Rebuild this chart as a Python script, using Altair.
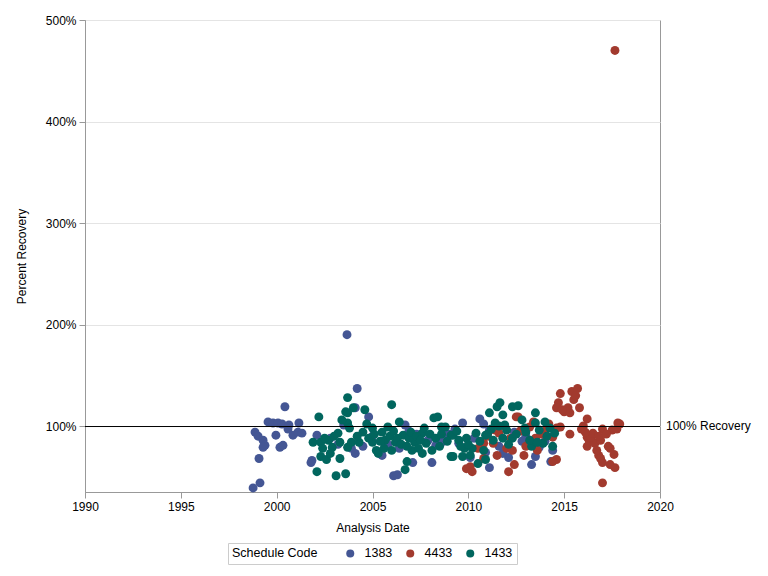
import altair as alt
import pandas as pd

codes = ["1383", "4433", "1433"]
colors = ["#445694", "#A23A2E", "#01665E"]

blue_year = [1998.77, 1999.13, 1998.87, 1999.03, 1999.29, 1999.39, 1999.29, 1999.08, 1999.55, 1999.81,
             2000.07, 2000.28, 1999.96, 2000.17, 2000.33, 2000.43, 2000.64, 2000.59, 2000.85, 2001.16,
             2001.11, 2001.32, 2001.79, 2001.84, 2002.1, 2003.67, 2004.2, 2004.1, 2004.8, 2003.5,
             2004.1, 2003.9, 2005.5, 2006.1, 2006.3, 2006.7, 2006.9, 2007.1, 2007.4, 2008.1,
             2008.6, 2008.8, 2009.3, 2009.7, 2009.5, 2010.1, 2010.6, 2010.8, 2011.1, 2011.1,
             2011.6, 2012.1, 2012.8, 2013.3, 2013.7, 2014.3, 2014.4, 2005.0, 2005.8, 2006.4,
             2007.9, 2009.0, 2010.3, 2012.4, 2013.0, 2014.0, 2004.5, 2007.3, 2002.8, 2003.2,
             2010.9, 2011.8, 2013.5, 2008.3]
blue_pct = [39, 44, 94, 90, 86, 81, 79, 68, 104, 103,
            103, 102, 91, 79, 81, 119, 101, 97, 91, 103,
            94, 93, 64, 66, 91, 190, 137, 118, 109, 101,
            73, 78, 71, 51, 52, 101, 95, 64, 88, 64,
            84, 91, 97, 103, 83, 69, 107, 102, 96, 59,
            80, 69, 85, 62, 79, 65, 76, 90, 82, 78,
            86, 92, 88, 94, 90, 85, 80, 92, 88, 82,
            74, 73, 70, 81]

red_year = [2009.9, 2010.1, 2010.2, 2010.8, 2010.8, 2011.3, 2011.5, 2011.6, 2012.0, 2012.1,
            2012.4, 2012.5, 2012.6, 2012.9, 2013.2, 2013.2, 2013.4, 2013.6, 2014.0, 2014.4,
            2014.6, 2014.6, 2014.4, 2011.0, 2011.9, 2012.2, 2012.7, 2013.0, 2013.8, 2014.2,
            2010.5, 2011.4, 2012.3, 2013.5, 2014.8, 2014.7, 2014.6, 2015.0, 2015.3, 2015.4,
            2015.7, 2015.5, 2015.8, 2015.2, 2014.9, 2015.6, 2014.8, 2015.3, 2016.2, 2015.9,
            2016.0, 2016.2, 2016.3, 2016.2, 2016.6, 2016.9, 2017.0, 2017.5, 2017.8, 2017.75,
            2017.9, 2017.4, 2016.8, 2017.0, 2017.4, 2017.65, 2017.0, 2016.7, 2016.4, 2016.5,
            2016.8, 2017.2, 2017.3, 2017.6, 2017.65, 2016.9, 2016.1]
red_pct = [58, 60, 55, 68, 83, 83, 71, 93, 78, 55,
           62, 109, 109, 71, 99, 84, 104, 76, 95, 89,
           98, 67, 65, 90, 100, 88, 95, 80, 92, 102,
           78, 96, 76, 88, 132, 123, 118, 114, 113, 134,
           137, 126, 118, 118, 116, 130, 99, 92, 107, 97,
           100, 89, 86, 80, 83, 86, 97, 96, 103, 97,
           102, 78, 71, 64, 62, 59, 44, 76, 89, 93,
           90, 92, 80, 72, 470, 68, 94]

teal_year = [2002.2, 2001.9, 2002.3, 2002.4, 2002.3, 2002.6, 2002.7, 2002.9, 2003.2, 2003.3,
             2003.3, 2002.1, 2003.1, 2003.6, 2003.7, 2003.6, 2003.7, 2003.4, 2003.7, 2002.8,
             2004.0, 2003.7, 2003.8, 2004.6, 2006.0, 2003.9, 2004.3, 2004.5, 2005.0, 2005.0,
             2005.2, 2005.5, 2005.65, 2005.8, 2006.2, 2006.4, 2006.6, 2006.8, 2006.7, 2007.06,
             2007.2, 2007.6, 2007.7, 2007.8, 2008.2, 2008.4, 2008.6, 2008.8, 2009.1, 2009.1,
             2008.1, 2006.0, 2005.3, 2007.6, 2009.2, 2009.5, 2009.8, 2009.2, 2009.7, 2010.1,
             2010.2, 2010.4, 2010.9, 2010.8, 2010.9, 2010.5, 2011.4, 2011.9, 2011.8, 2012.3,
             2012.8, 2012.95, 2013.3, 2013.5, 2014.0, 2014.26, 2014.4, 2013.9, 2013.2, 2011.3,
             2011.65, 2011.5, 2011.1, 2012.3, 2012.6, 2013.5, 2011.8, 2004.2, 2004.8, 2005.1,
             2005.4, 2005.9, 2006.1, 2006.3, 2006.5, 2006.9, 2007.0, 2007.3, 2007.5, 2008.0,
             2008.3, 2008.6, 2008.9, 2009.4, 2009.9, 2010.0, 2010.6, 2011.0, 2011.2, 2011.6,
             2012.0, 2012.5, 2013.0, 2013.7, 2014.1, 2014.5, 2004.7, 2005.6, 2006.8, 2007.4,
             2008.5, 2009.6, 2012.1, 2013.6, 2003.0, 2002.5]
teal_pct = [109, 84, 84, 78, 70, 67, 86, 79, 93, 84,
            68, 55, 51, 53, 128, 114, 103, 106, 79, 73,
            118, 113, 98, 116, 121, 84, 84, 94, 98, 84,
            76, 94, 86, 99, 84, 104, 91, 65, 57, 76,
            84, 93, 98, 83, 108, 109, 99, 99, 91, 70,
            76, 76, 73, 73, 91, 86, 78, 70, 70, 71,
            78, 93, 91, 76, 67, 63, 103, 101, 88, 88,
            106, 98, 80, 103, 104, 98, 80, 83, 86, 86,
            123, 119, 113, 119, 120, 113, 111, 90, 88, 92,
            85, 90, 95, 88, 82, 88, 94, 90, 86, 92,
            88, 92, 85, 95, 88, 82, 85, 92, 97, 100,
            96, 92, 94, 96, 90, 93, 102, 78, 80, 78,
            80, 80, 82, 84, 90, 88]

rows = []
for code, ys, ps in [("1383", blue_year, blue_pct), ("4433", red_year, red_pct), ("1433", teal_year, teal_pct)]:
    for y, p in zip(ys, ps):
        rows.append({"year": y, "pct": p, "code": code})
df = pd.DataFrame(rows)
df["order"] = df["code"].map({c: i for i, c in enumerate(codes)})

x_ticks = [1990, 1995, 2000, 2005, 2010, 2015, 2020]
y_ticks = [100, 200, 300, 400, 500]

xscale = alt.Scale(domain=[1990, 2020], nice=False, zero=False)
yscale = alt.Scale(domain=[35, 500], nice=False, zero=False)

points = alt.Chart(df).mark_circle(size=80, opacity=1).encode(
    x=alt.X("year:Q", scale=xscale,
            axis=alt.Axis(title="Analysis Date", values=x_ticks, format="d", grid=False,
                          labelFlush=False, tickSize=6, labelPadding=3, titlePadding=10)),
    y=alt.Y("pct:Q", scale=yscale,
            axis=alt.Axis(title="Percent Recovery", values=y_ticks, labelExpr="datum.value + '%'",
                          labelFlush=False, grid=True, tickSize=6, labelPadding=3, titlePadding=17)),
    color=alt.Color("code:N", scale=alt.Scale(domain=codes, range=colors),
                    legend=alt.Legend(title="Schedule Code", orient="none", legendX=143, legendY=523,
                                      direction="horizontal", titleOrient="left",
                                      strokeColor="#cccccc", padding=4, titlePadding=26,
                                      symbolSize=64, symbolType="circle", labelOffset=8,
                                      columnPadding=11, titleFontWeight="normal",
                                      titleFontSize=12.5, labelFontSize=12.5)),
    order=alt.Order("order:Q"),
)

ref = alt.Chart(pd.DataFrame({"v": [100]})).mark_rule(color="black", strokeWidth=1, yOffset=0.5).encode(
    y=alt.Y("v:Q", scale=yscale)
)
ref_label = alt.Chart(pd.DataFrame({"v": [100], "t": ["100% Recovery"]})).mark_text(
    align="left", baseline="middle", fontSize=12, color="black", clip=False
).encode(
    y=alt.Y("v:Q", scale=yscale), x=alt.value(581), text="t:N"
)

chart = alt.layer(points, ref, ref_label).properties(
    width=575, height=472,
    autosize=alt.AutoSizeParams(type="none"),
    padding={"left": 77, "top": 12, "right": 100, "bottom": 76},
).configure(
    font="Liberation Sans",
).configure_view(
    stroke="#999999", strokeWidth=1
).configure_axis(
    domainColor="#999999", tickColor="#999999", gridColor="#e4e4e4",
    labelFontSize=12, titleFontSize=12, labelColor="black", titleColor="black",
    titleFontWeight="normal", labelFont="Liberation Sans", titleFont="Liberation Sans"
).configure_legend(
    labelColor="black", titleColor="black", labelFont="Liberation Sans", titleFont="Liberation Sans"
)

chart.save("out.html", embed_options={"renderer": "svg", "actions": False})
